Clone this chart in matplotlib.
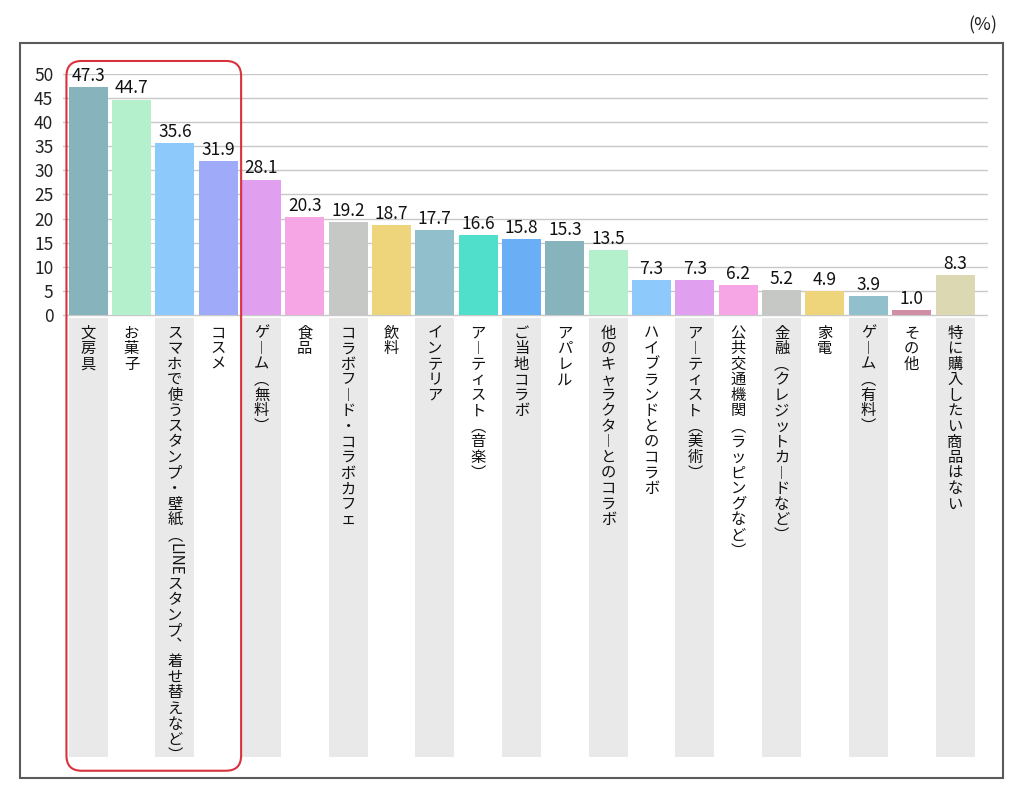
import matplotlib
matplotlib.use("Agg")
import matplotlib.pyplot as plt
from matplotlib.patches import FancyBboxPatch, Rectangle
from matplotlib.textpath import TextPath
from matplotlib.font_manager import FontProperties

plt.rcParams['font.family'] = ['Noto Sans CJK JP', 'DejaVu Sans']

labels = [
    "文房具", "お菓子", "スマホで使うスタンプ・壁紙（LINEスタンプ、着せ替えなど）",
    "コスメ", "ゲーム（無料）", "食品", "コラボフード・コラボカフェ", "飲料",
    "インテリア", "アーティスト（音楽）", "ご当地コラボ", "アパレル",
    "他のキャラクターとのコラボ", "ハイブランドとのコラボ", "アーティスト（美術）",
    "公共交通機関（ラッピングなど）", "金融（クレジットカードなど）", "家電",
    "ゲーム（有料）", "その他", "特に購入したい商品はない",
]
values = [47.3, 44.7, 35.6, 31.9, 28.1, 20.3, 19.2, 18.7, 17.7, 16.6, 15.8,
          15.3, 13.5, 7.3, 7.3, 6.2, 5.2, 4.9, 3.9, 1.0, 8.3]
colors = ['#87b4bc', '#b4f0cc', '#8dc9fa', '#9fabf9', '#e0a0ef', '#f7a6e5',
          '#c6c8c5', '#eed57b', '#91bfcb', '#50dfcb', '#6aaff5', '#87b4bc',
          '#b4f0cc', '#8dc9fa', '#e0a0ef', '#f7a6e5', '#c6c8c5', '#eed57b',
          '#91bfcb', '#d08fa6', '#dcd8b1']
yticks = list(range(0, 51, 5))
highlight = [0, 1, 2, 3]  # 赤枠で囲む項目

# 縦書き用の置き換え
vert_map = {'（': '︵', '）': '︶', 'ー': '︱', '、': '︑'}

fig = plt.figure(figsize=(10.24, 7.93), dpi=100)
ax = fig.add_axes([0.0615, 0.0378, 0.9033, 0.8689])

x = list(range(len(labels)))
ax.set_xlim(-0.58, 20.76)
ax.set_ylim(-93, 50)

# グリッド
for t in yticks:
    ax.axhline(t, color='#c8c8c8', lw=1, zorder=0)

# ラベル下の帯（交互にグレー）
strip_x = x[::2]
ax.bar(strip_x, [-91.1] * len(strip_x), bottom=-0.6, width=0.9,
       color='#e9e9e9', zorder=0)

ax.bar(x, values, width=0.9, color=colors, zorder=2)

for i, v in enumerate(values):
    ax.annotate(f"{v:.1f}", (i, v), xytext=(0, 1.5), textcoords='offset points',
                ha='center', va='bottom', fontsize=12.5, color='#111')

# 縦書きラベル
fs = 11
step = 11.2
fp = FontProperties(family='Noto Sans CJK JP')


def vlabel(xi, s):
    cursor = 7.5
    i = 0
    while i < len(s):
        ch = s[i]
        if ch.isascii() and ch.isalpha():
            j = i
            while j < len(s) and s[j].isascii() and s[j].isalpha():
                j += 1
            run = s[i:j]
            w = TextPath((0, 0), run, size=fs, prop=fp).get_extents().width
            ax.annotate(run, (xi, 0), xytext=(0, -(cursor + w / 2 + 1)),
                        textcoords='offset points', ha='center', va='center',
                        rotation=-90, fontsize=fs, color='#111',
                        annotation_clip=False)
            cursor += w + 2
            i = j
            continue
        ax.annotate(vert_map.get(ch, ch), (xi, 0),
                    xytext=(0, -(cursor + step / 2)),
                    textcoords='offset points', ha='center', va='center',
                    fontsize=fs, color='#111', annotation_clip=False)
        cursor += step
        i += 1


for i, lab in enumerate(labels):
    vlabel(i, lab)

ax.set_yticks(yticks)
ax.set_xticks([])
ax.tick_params(axis='y', length=0, pad=7, labelsize=12.5, labelcolor='#222')
for s in ax.spines.values():
    s.set_visible(False)

# 赤枠
x0 = highlight[0] - 0.5
x1 = highlight[-1] + 0.53
box = FancyBboxPatch((x0, -94.6), x1 - x0, 147.3,
                     boxstyle="round,pad=0,rounding_size=0.35",
                     mutation_aspect=9.0, fc='none', ec='#d8323c', lw=1.5,
                     clip_on=False, zorder=5)
ax.add_patch(box)

# 外枠
fig.add_artist(Rectangle((20 / 1024, 15 / 793), 983 / 1024, 735 / 793,
                         transform=fig.transFigure, fill=False,
                         ec='#5a5a5a', lw=1.5))
fig.text(983 / 1024, 1 - 25 / 793, "(%)", ha='center', va='center',
         fontsize=13, color='#222')

plt.savefig('out.png', dpi=100)
plt.close()
